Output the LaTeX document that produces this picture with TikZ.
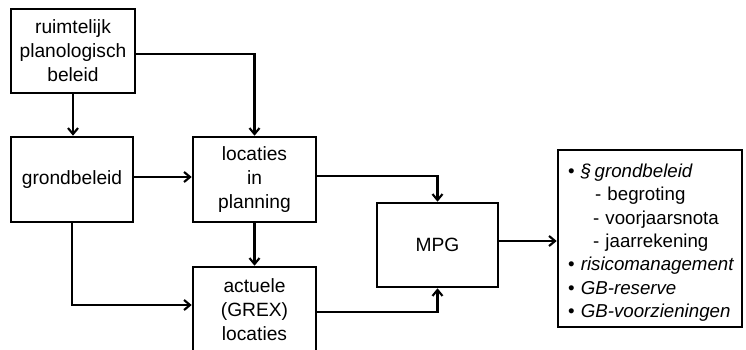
\documentclass[tikz,border=0pt]{standalone}
\usepackage{fontspec}
\setmainfont{Liberation Sans}
\usetikzlibrary{arrows.meta}
\tikzstyle{blok} = [draw=black, fill=white, line width=2.6pt,
    rectangle, minimum width=122pt, minimum height=84pt, inner sep=2pt,
    align=center, font=\fontsize{19.2}{24}\selectfont]
\tikzstyle{lijst} = [draw=black, fill=white, line width=2.6pt,
    rectangle, minimum height=177pt, inner xsep=10pt, inner ysep=2pt,
    text width=164pt, align=left, font=\fontsize{18.7}{23.4}\selectfont]
\tikzstyle{pijl} = [line width=2.1pt, -{Straight Barb[length=6pt,width=10pt]}]

\begin{document}
\begin{tikzpicture}[x=1pt, y=-1pt]
                \clip (0,0) rectangle (746,350);
                \node [blok, minimum width=124pt] (plan) at (73,51) {ruimtelijk\\planologisch\\beleid};
                \node [blok, minimum height=85pt] (grond) at (72,179.5) {grondbeleid};
                \node [blok, minimum width=123pt, minimum height=85pt] (loc) at (254.5,179.5) {locaties\\in\\planning};
                \node [blok, minimum width=123pt, minimum height=85pt] (act) at (254.5,309.5) {actuele\\(GREX)\\locaties};
                \node [blok, minimum width=121pt] (mpg) at (437.5,245) {MPG};
                \node [lijst] (taken) at (650,238.5) {%
                    \rule{0pt}{22pt}\mbox{• \textit{§\hspace{3.5pt}grondbeleid}}\\
                    \hspace*{27pt}- begroting\\
                    \hspace*{25pt}- voorjaarsnota\\
                    \hspace*{25pt}- jaarrekening\\
                    \mbox{• \textit{risicomanagement}}\\
                    \mbox{• \textit{GB-reserve}}\\
                    \mbox{• \textit{GB-voorzieningen}}%
                };
                % verbindingen
                \draw[pijl] (plan.south) -- (plan.south |- grond.north);
                \draw[pijl] ([yshift=-3pt]plan.east) -| (loc.north);
                \draw[pijl] ([yshift=2.5pt]grond.east) -- ([yshift=2.5pt]grond.east -| loc.west);
                \draw[pijl] (grond.south) |- ([yshift=4.5pt]act.west);
                \draw[pijl] (loc.south) -- (act.north);
                \draw[pijl] ([yshift=3.5pt]loc.east) -| (mpg.north);
                \draw[pijl] ([yshift=-2.5pt]act.east) -| (mpg.south);
                \draw[pijl] ([yshift=4pt]mpg.east) -- ([yshift=4pt]mpg.east -| taken.west);
            \end{tikzpicture}
\end{document}
